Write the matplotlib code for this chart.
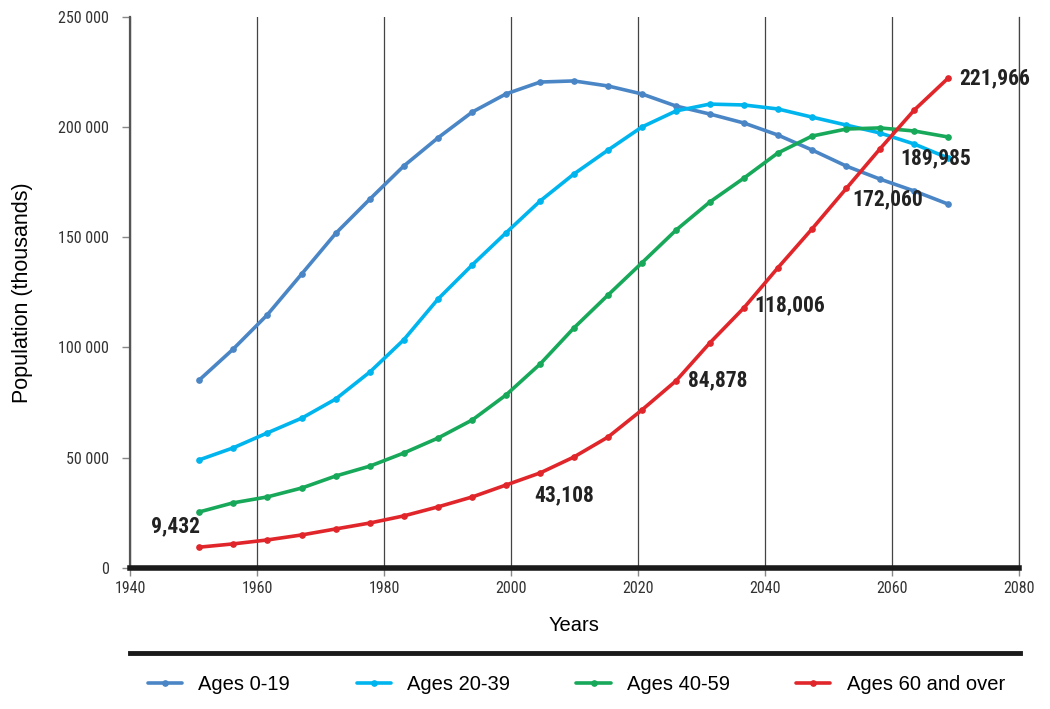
import matplotlib.pyplot as plt
from matplotlib.lines import Line2D
from matplotlib.ticker import FuncFormatter
from matplotlib import font_manager

# x positions of the points
years = [1950.9, 1956.2, 1961.6, 1967.1, 1972.4, 1977.8, 1983.1, 1988.5,
         1993.9, 1999.2, 2004.6, 2009.9, 2015.3, 2020.6, 2026.0, 2031.3,
         2036.7, 2042.0, 2047.4, 2052.8, 2058.1, 2063.5, 2068.8]

ages_0_19 = [85200, 99100, 114700, 133500, 151700, 167300, 182200, 195000,
             206700, 214900, 220300, 220800, 218500, 214900, 209400, 205800,
             201700, 196300, 189500, 182200, 176300, 170900, 165000]
ages_20_39 = [49000, 54400, 61200, 68000, 76600, 88900, 103400, 121900,
              137400, 151900, 166400, 178600, 189500, 199900, 207200, 210300,
              209900, 208100, 204400, 200800, 197200, 192200, 185900]
ages_40_59 = [25400, 29500, 32200, 36300, 41700, 46200, 52100, 58900,
              67100, 78400, 92500, 108800, 123800, 138300, 153200, 165900,
              176800, 188100, 195800, 199000, 199500, 198100, 195400]
ages_60_over = [9432, 10900, 12700, 15000, 17700, 20400, 23600, 27700,
                32200, 37600, 43108, 50300, 59400, 71600, 84878, 102000,
                118006, 136000, 153700, 172060, 189985, 207600, 221966]

series_names = ['Ages 0-19', 'Ages 20-39', 'Ages 40-59', 'Ages 60 and over']
colors = ['#4a86c6', '#00b5ee', '#17a85a', '#e0262a']

# which red points carry a value label, and where the label sits (points)
label_idx = [0, 10, 14, 16, 19, 20, 22]
label_offsets = [(-17, 15), (17, -16), (30, 0), (33, 2), (30, -8),
                 (40, -7), (34, 0)]

installed = {f.name for f in font_manager.fontManager.ttflist}
narrow = [f for f in ['Roboto Condensed', 'Liberation Sans Narrow',
                      'DejaVu Sans Condensed', 'Roboto'] if f in installed]
num_font = narrow + ['DejaVu Sans']

fig = plt.figure(figsize=(10.5, 7.09), dpi=100)
ax = fig.add_axes([0.1238, 0.1989, 0.8467, 0.7778])

for vals, name, c in zip([ages_0_19, ages_20_39, ages_40_59, ages_60_over],
                         series_names, colors):
    ax.plot(years, vals, color=c, lw=2.6, marker='o', ms=3.8, label=name,
            solid_capstyle='round')

for i, (dx, dy) in zip(label_idx, label_offsets):
    ax.annotate(f'{ages_60_over[i]:,}', (years[i], ages_60_over[i]),
                xytext=(dx, dy), textcoords='offset points',
                ha='center', va='center', fontsize=15.5, fontweight='bold',
                family=num_font, fontstretch='condensed', color='#222222')

ax.set_xlim(1940, 2080)
ax.set_ylim(0, 250000)
ax.set_xticks(range(1940, 2081, 20))
ax.set_yticks(range(0, 250001, 50000))
ax.yaxis.set_major_formatter(FuncFormatter(lambda v, p: f'{int(v):,}'.replace(',', ' ')))

for lab in ax.get_xticklabels() + ax.get_yticklabels():
    lab.set_family(num_font)
    lab.set_fontstretch('condensed')
    lab.set_fontsize(11.5)
    lab.set_color('#333333')

ax.tick_params(axis='both', color='#888888', length=6, width=1)
ax.tick_params(axis='y', pad=9)
ax.grid(axis='x', color='#444444', lw=0.9)
ax.set_axisbelow(True)

ax.spines['top'].set_visible(False)
ax.spines['right'].set_color('#444444')
ax.spines['right'].set_linewidth(0.9)
ax.spines['left'].set_color('#555555')
ax.spines['left'].set_linewidth(1.6)
ax.spines['bottom'].set_color('#1a1a1a')
ax.spines['bottom'].set_linewidth(4)

ax.set_ylabel('Population (thousands)', fontsize=15.5, family='Liberation Sans', labelpad=18)
ax.set_xlabel('Years', fontsize=14.5, family='Liberation Sans', labelpad=14)

fig.add_artist(Line2D([0.124, 0.971], [0.079, 0.079], color='#1a1a1a', lw=3.5))

leg = fig.legend(loc='center', bbox_to_anchor=(0.549, 0.035), ncol=4, frameon=False,
                 prop={'family': 'Liberation Sans', 'size': 14.5},
                 handlelength=1.7, columnspacing=3.3, handletextpad=0.8)

fig.savefig('out.png', dpi=100)
